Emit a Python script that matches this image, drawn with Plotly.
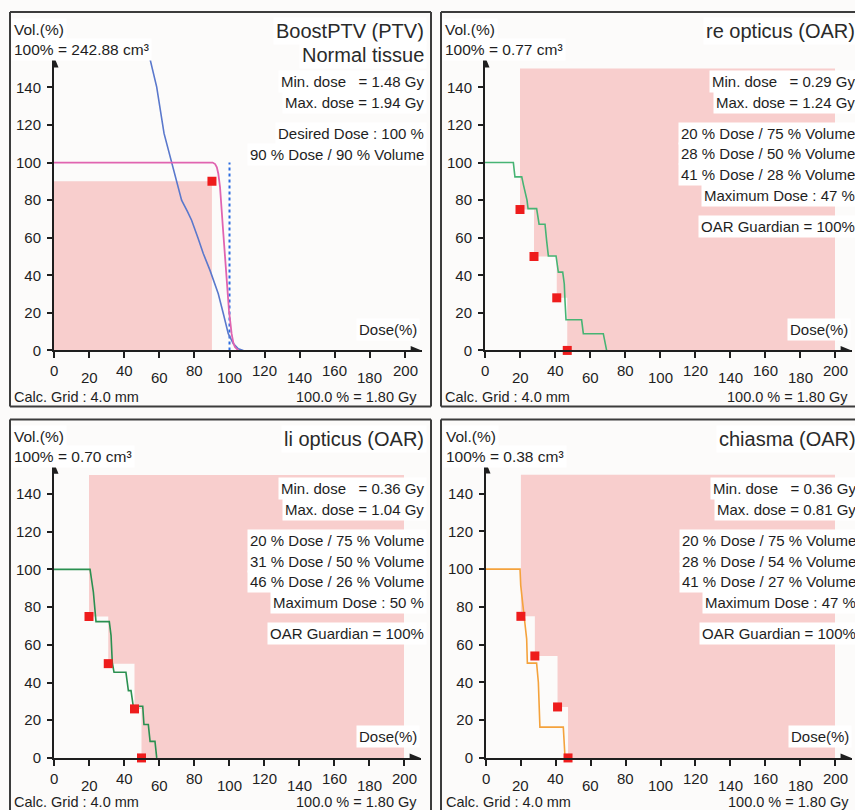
import plotly.graph_objects as go

REF_W, REF_H = 855, 810          # reference picture size (pixel coordinates below)
W, H = 855, 819                  # figure size (page capture is slightly taller)
VS = H / REF_H
XMAX, YMAX = 209.5, 156.5
FONT = "Liberation Sans, Arial, sans-serif"
INK = "#1e1e1e"

# ---------------- data ----------------
Y_TICKS = [0, 20, 40, 60, 80, 100, 120, 140]
X_TICKS = [0, 20, 40, 60, 80, 100, 120, 140, 160, 180, 200]
X_TICK_LABELS = ["0", "20", "40", "60", "80", "100", "120", "140", "160", "180", "200"]

# Panel 1 : BoostPTV (PTV) + Normal tissue
PTV_DOSE = [0, 90.4, 91.8, 92.8, 93.6, 94.3, 94.6, 96.5, 98.4, 99.7, 101.2, 102.2, 103.1, 105]
PTV_VOL = [100, 100, 99.2, 97.5, 94.2, 90, 87, 62, 35.5, 21.3, 8.9, 4.0, 1.8, 0]
NT_DOSE = [54.3, 58.5, 62.7, 66.1, 68.9, 72.7, 76.0, 78.4, 82.0, 85.1, 88.9, 90.8,
           93.6, 96.5, 99.3, 102.2, 105, 107.9]
NT_VOL = [156.7, 140.3, 115.5, 103, 92.4, 80, 74.0, 69.3, 60.0, 51.5, 42.6, 37.3,
          30.2, 19.5, 8.9, 3.6, 0.9, 0]
PTV_CON_DOSE = [90]
PTV_CON_VOL = [90]
DESIRED_DOSE = 100
DESIRED_VOL = 100

# Panel 2 : re opticus (OAR)
RE_DOSE = [0, 16.2, 17.1, 21, 22, 24, 24.6, 29.5, 30.9, 34.3, 35.2, 36.2, 40.6, 41.9,
           44.4, 45.3, 45.7, 46.3, 55.2, 56.2, 67.6, 69.5]
RE_VOL = [100, 100, 92.4, 92.4, 88, 80, 75.5, 75.5, 67.2, 67.2, 58.6, 50.3, 50.3, 41.7,
          41.7, 35.5, 26.6, 16.3, 16.3, 8.9, 8.9, 0]
RE_CON_DOSE = [20, 28, 41, 47]
RE_CON_VOL = [75, 50, 28, 0]

# Panel 3 : li opticus (OAR)
LI_DOSE = [0, 20.6, 22.5, 24, 31.6, 32.6, 33.3, 34.3, 41.1, 42.5, 44, 45.3, 50.7, 51.4,
           53.9, 54.9, 57.7, 58.7]
LI_VOL = [100, 100, 87.9, 72.3, 72.3, 64.9, 50.7, 45.4, 45.4, 35.7, 35.7, 27.4, 27.4,
          17.7, 17.7, 8.8, 8.8, 0]
LI_CON_DOSE = [20, 31, 46, 50]
LI_CON_VOL = [75, 50, 26, 0]

# Panel 4 : chiasma (OAR)
CH_DOSE = [0, 19.5, 19.9, 21, 22, 23.3, 23.7, 29, 30, 30.9, 44.3, 45.3]
CH_VOL = [100, 100, 91.4, 80.8, 73.7, 63.1, 50.2, 50.2, 40.1, 16.3, 16.3, 0]
CH_CON_DOSE = [20, 28, 41, 47]
CH_CON_VOL = [75, 54, 27, 0]

TITLES = [["BoostPTV (PTV)", "Normal tissue"], ["re opticus (OAR)"],
          ["li opticus (OAR)"], ["chiasma (OAR)"]]
VOLUMES = ["242.88", "0.77", "0.70", "0.38"]
MIN_DOSE = ["1.48", "0.29", "0.36", "0.36"]
MAX_DOSE = ["1.94", "1.24", "1.04", "0.81"]
MAX_DOSE_PCT = [None, 47, 50, 47]
GUARDIAN = [None, "100%", "100%", "100%"]
CALC_GRID = "4.0 mm"
REF_DOSE = "100.0 % = 1.80 Gy"

# ---------------- layout geometry (reference pixels) ----------------
PANELS = [
    dict(x0=54, x200=405, y0=350, y140=87.3, foot=46.5),
    dict(x0=485, x200=835, y0=350, y140=87.3, foot=46.5),
    dict(x0=54, x200=404, y0=757, y140=493.3, foot=44),
    dict(x0=486, x200=835, y0=757, y140=493.0, foot=44),
]
FRAME_EDGES = [
    (10, 12, 431, 12), (10, 12, 10, 406), (431, 12, 431, 406), (10, 406, 431, 406),
    (441, 12, 855, 12), (441, 12, 441, 406), (441, 406, 855, 406),
    (10, 419, 431, 419), (10, 419, 10, 810), (431, 419, 431, 810),
    (441, 419, 855, 419), (441, 419, 441, 810),
]

PINK = "rgba(240,105,105,0.31)"
RED = "#ee1c1c"
CURVE_COLORS = ["#46b474", "#2a9050", "#f4a23c"]

fig = go.Figure()
annotations = []
shapes = []


def px(xp):
    return xp / REF_W


def py(yp):
    return 1 - yp / REF_H


for i, p in enumerate(PANELS):
    sx = (p["x200"] - p["x0"]) / 200.0
    sy = (p["y0"] - p["y140"]) / 140.0
    xd = [px(p["x0"]), px(p["x0"] + XMAX * sx)]
    yd = [py(p["y0"]), py(p["y0"] - YMAX * sy)]
    sfx = "" if i == 0 else str(i + 1)
    ax_common = dict(showgrid=False, zeroline=False, showline=True, linewidth=2,
                     linecolor=INK, ticks="outside", tickwidth=2, tickcolor=INK,
                     fixedrange=True)
    fig.layout["xaxis" + sfx] = dict(domain=xd, range=[0, XMAX], anchor="y" + sfx,
                                     tickvals=X_TICKS, showticklabels=False, ticklen=6,
                                     **ax_common)
    fig.layout["yaxis" + sfx] = dict(domain=yd, range=[0, YMAX], anchor="x" + sfx,
                                     tickvals=Y_TICKS, ticklen=5,
                                     tickfont=dict(family=FONT, size=15, color=INK),
                                     ticklabelstandoff=3, **ax_common)
    xr, yr = "x" + sfx, "y" + sfx
    ox, oy = p["x0"], p["y0"]

    # arrowheads
    shapes.append(dict(type="path", xref=xr, yref=yr, xsizemode="pixel", ysizemode="pixel",
                       xanchor=XMAX, yanchor=0, path="M-11,-4.5 L0,0 L-11,4.5 Z",
                       fillcolor=INK, line=dict(width=0)))
    shapes.append(dict(type="path", xref=xr, yref=yr, xsizemode="pixel", ysizemode="pixel",
                       xanchor=0, yanchor=YMAX, path="M-4.5,-11 L0,0 L4.5,-11 Z",
                       fillcolor=INK, line=dict(width=0)))

    # x tick labels (staggered)
    for k, (v, lab) in enumerate(zip(X_TICKS, X_TICK_LABELS)):
        annotations.append(dict(x=v, y=0, xref=xr, yref=yr, text=lab, showarrow=False,
                                xanchor="center", yanchor="middle",
                                yshift=-(20 if k % 2 == 0 else 27) * VS,
                                font=dict(family=FONT, size=15, color=INK)))

    def txt(dx, dy, text, anchor, size=15, bg="white", color=INK):
        annotations.append(dict(x=px(ox + dx), y=py(oy + dy), xref="paper", yref="paper",
                                text=text, showarrow=False, xanchor=anchor,
                                yanchor="middle", bgcolor=bg, borderpad=2,
                                font=dict(family=FONT, size=size, color=color)))

    txt(-43, -321, "Vol.(%)", "left", size=15.5)
    txt(-43, -301, "100% = " + VOLUMES[i] + " cm\u00b3", "left", size=15.5)
    for j, t in enumerate(TITLES[i]):
        txt(373, -319 + 24 * j, t, "right", size=20, color="#2a2a2a")
    txt(373, -269, "Min. dose \u00a0 = " + MIN_DOSE[i] + " Gy", "right")
    txt(373, -248, "Max. dose = " + MAX_DOSE[i] + " Gy", "right")
    txt(366, -21, "Dose(%)", "right")
    txt(-43, p["foot"], "Calc. Grid : " + CALC_GRID, "left", size=14.5, bg=None)
    txt(366, p["foot"], REF_DOSE, "right", size=14.5, bg=None)

    if i == 0:
        txt(373, -217, "Desired Dose : %d %%" % DESIRED_DOSE, "right")
        txt(373, -196, "%d %% Dose / %d %% Volume" % (PTV_CON_DOSE[0], PTV_CON_VOL[0]), "right")
        cx, cy = PTV_CON_DOSE[0], PTV_CON_VOL[0]
        fig.add_trace(go.Scatter(x=[0, cx, cx, 0, 0], y=[0, 0, cy, cy, 0], mode="lines",
                                 fill="toself", fillcolor=PINK, line=dict(width=0),
                                 xaxis=xr, yaxis=yr, hoverinfo="skip"))
        fig.add_trace(go.Scatter(x=[DESIRED_DOSE, DESIRED_DOSE], y=[0, DESIRED_VOL],
                                 mode="lines", line=dict(color="#2b6be0", width=2, dash="3px,3px"),
                                 xaxis=xr, yaxis=yr))
        fig.add_trace(go.Scatter(x=NT_DOSE, y=NT_VOL, mode="lines",
                                 line=dict(color="#5a78cc", width=1.6), xaxis=xr, yaxis=yr))
        fig.add_trace(go.Scatter(x=PTV_DOSE, y=PTV_VOL, mode="lines",
                                 line=dict(color="#e064b0", width=1.8), xaxis=xr, yaxis=yr))
        fig.add_trace(go.Scatter(x=PTV_CON_DOSE, y=PTV_CON_VOL, mode="markers",
                                 marker=dict(symbol="square", size=9, color=RED,
                                             line=dict(width=0)),
                                 xaxis=xr, yaxis=yr))
    else:
        cd = [RE_CON_DOSE, LI_CON_DOSE, CH_CON_DOSE][i - 1]
        cv = [RE_CON_VOL, LI_CON_VOL, CH_CON_VOL][i - 1]
        dd = [RE_DOSE, LI_DOSE, CH_DOSE][i - 1]
        vv = [RE_VOL, LI_VOL, CH_VOL][i - 1]
        col = CURVE_COLORS[i - 1]
        for j in range(3):
            txt(373, -217 + 20.5 * j, "%d %% Dose / %d %% Volume" % (cd[j], cv[j]), "right")
        txt(373, -155, "Maximum Dose : %d %%" % MAX_DOSE_PCT[i], "right")
        txt(373, -124, "OAR Guardian = " + GUARDIAN[i], "right")
        # forbidden (staircase) region built from constraint points
        rx, ry = [cd[0]], [150]
        for j in range(len(cd)):
            rx.append(cd[j]); ry.append(cv[j])
            if j + 1 < len(cd):
                rx.append(cd[j + 1]); ry.append(cv[j])
        rx += [200, 200, cd[0]]
        ry += [0, 150, 150]
        fig.add_trace(go.Scatter(x=rx, y=ry, mode="lines", fill="toself", fillcolor=PINK,
                                 line=dict(width=0), xaxis=xr, yaxis=yr, hoverinfo="skip"))
        fig.add_trace(go.Scatter(x=dd, y=vv, mode="lines", line=dict(color=col, width=1.6),
                                 xaxis=xr, yaxis=yr))
        fig.add_trace(go.Scatter(x=cd, y=cv, mode="markers", cliponaxis=False,
                                 marker=dict(symbol="square", size=9, color=RED,
                                             line=dict(width=0)),
                                 xaxis=xr, yaxis=yr))

for (x0, y0, x1, y1) in FRAME_EDGES:
    shapes.append(dict(type="line", xref="paper", yref="paper", x0=px(x0), x1=px(x1),
                       y0=py(y0), y1=py(y1), line=dict(color="#3c3c3c", width=2),
                       layer="above"))

fig.update_layout(width=W, height=H, margin=dict(l=0, r=0, t=0, b=0),
                  paper_bgcolor="#fcfbfa", plot_bgcolor="rgba(0,0,0,0)",
                  showlegend=False, annotations=annotations, shapes=shapes,
                  font=dict(family=FONT, color=INK))

fig.write_html("out.html", config={"displayModeBar": False},
               post_script="document.body.style.margin='0';document.body.style.overflow='hidden';")
